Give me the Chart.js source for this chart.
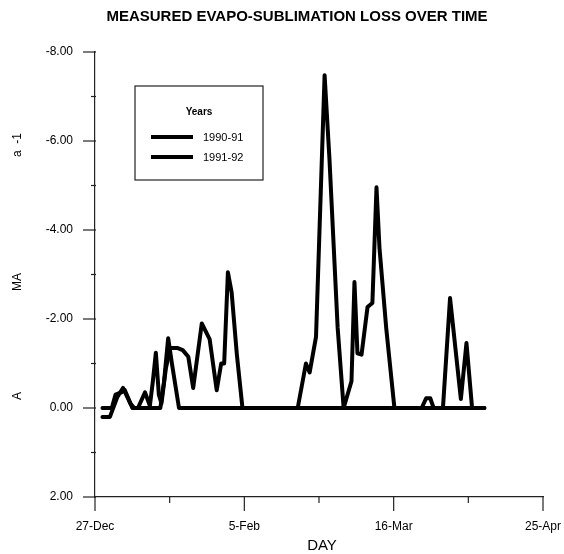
<!DOCTYPE html>
<html>
<head>
<meta charset="utf-8">
<script src="https://cdn.jsdelivr.net/npm/chart.js@4/dist/chart.umd.min.js"></script>
<style>
  html, body { margin: 0; padding: 0; background: #fff; }
  #wrap { width: 564px; height: 554px; }
</style>
</head>
<body>
<div id="wrap"><canvas id="chartLoss"></canvas></div>
<script>
	// days counted from 27-Dec
	let seriesNames = ["1990-91", "1991-92"];

	let days9091 = [2, 4.5, 5.5, 7, 8, 10, 11.5, 13.4, 14.7, 15.5, 16.3, 17.1, 17.8, 19, 20.2, 22, 23.5, 25, 26.3, 28.6, 30.7, 32.6, 33.8, 34.6, 35.6, 36.6, 38, 39.5, 104.3];
	let loss9091 = [0, 0, -0.3, -0.35, -0.4, 0, 0, -0.35, -0.05, -0.6, -1.24, -0.3, -0.1, -0.9, -1.35, -1.35, -1.3, -1.15, -0.45, -1.9, -1.55, -0.4, -1.0, -1.0, -3.05, -2.6, -1.2, 0, 0];

	let days9192 = [2, 4, 6, 7.5, 9.5, 10.5, 17.5, 18.5, 19.6, 20.6, 22.5, 54.3, 56.5, 57.5, 59.2, 61.5, 62.8, 65, 66.6, 68.7, 69.5, 70.3, 71.4, 73, 74.3, 75.4, 76.2, 78, 80.2, 87.5, 88.7, 89.8, 90.7, 93.2, 95.1, 98, 99.5, 101, 104.3];
	let loss9192 = [0.2, 0.2, -0.25, -0.45, -0.1, 0, 0, -0.6, -1.57, -1.0, 0, 0, -1.0, -0.8, -1.6, -7.48, -5.6, -1.8, 0, -0.6, -2.83, -1.23, -1.2, -2.27, -2.36, -4.96, -3.6, -1.8, 0, 0, -0.22, -0.22, 0, 0, -2.47, -0.2, -1.46, 0, 0];

	let dayTicks = [0, 40, 80, 120];
	let dayLabels = ["27-Dec", "5-Feb", "16-Mar", "25-Apr"];

	function toPoints(xs, ys) {
		return xs.map(function(x, i) { return { x: x, y: ys[i] }; });
	}

	let fontName = "'Liberation Sans', Arial, sans-serif";

	let decorPlugin = {
		id: 'decor',
		afterDraw: function(chart) {
			let ctx = chart.ctx;
			let xs = chart.scales.x;
			let ys = chart.scales.y;
			let area = chart.chartArea;
			ctx.save();
			ctx.strokeStyle = '#222';
			ctx.lineWidth = 1.2;

			// y ticks
			for (let v = -8; v <= 2; v++) {
				let py = ys.getPixelForValue(v);
				let len = (v % 2 === 0) ? 12 : 4;
				ctx.beginPath();
				ctx.moveTo(area.left - len, py);
				ctx.lineTo(area.left + 1, py);
				ctx.stroke();
			}
			// x ticks
			for (let d = 0; d <= 120; d += 20) {
				let px = xs.getPixelForValue(d);
				let len = (d % 40 === 0) ? 14 : 6;
				ctx.beginPath();
				ctx.moveTo(px, area.bottom);
				ctx.lineTo(px, area.bottom + len);
				ctx.stroke();
			}

			// title
			ctx.fillStyle = '#000';
			ctx.textAlign = 'center';
			ctx.textBaseline = 'middle';
			ctx.font = 'bold 15px ' + fontName;
			ctx.fillText('MEASURED EVAPO-SUBLIMATION LOSS OVER TIME', 297, 17);

			// x title
			ctx.font = '15px ' + fontName;
			ctx.fillText('DAY', 322, 546);

			// y title pieces
			ctx.font = '12px ' + fontName;
			[['A', 396], ['MA', 282], ['a  -1', 145]].forEach(function(p) {
				ctx.save();
				ctx.translate(18, p[1]);
				ctx.rotate(-Math.PI / 2);
				ctx.fillText(p[0], 0, 0);
				ctx.restore();
			});

			// legend box
			ctx.lineWidth = 1.2;
			ctx.strokeRect(135, 86, 128, 94);
			ctx.font = 'bold 10px ' + fontName;
			ctx.fillText('Years', 199, 112);
			ctx.textAlign = 'left';
			ctx.font = '11px ' + fontName;
			chart.data.datasets.forEach(function(ds, i) {
				let ly = 137 + i * 20;
				ctx.strokeStyle = ds.borderColor;
				ctx.lineWidth = 4;
				ctx.beginPath();
				ctx.moveTo(151, ly);
				ctx.lineTo(193, ly);
				ctx.stroke();
				ctx.fillText(ds.label, 203, ly + 1);
			});
			ctx.restore();
		}
	};

	let ctxLoss = document.getElementById('chartLoss');

	let chartLoss = new Chart(ctxLoss, {
		type: 'line',
		data: {
			datasets: [{
				label: seriesNames[0],
				data: toPoints(days9091, loss9091),
				borderColor: '#000',
				borderWidth: 4,
				pointRadius: 0,
				tension: 0,
				borderJoinStyle: 'round',
				borderCapStyle: 'round'
			}, {
				label: seriesNames[1],
				data: toPoints(days9192, loss9192),
				borderColor: '#000',
				borderWidth: 4,
				pointRadius: 0,
				tension: 0,
				borderJoinStyle: 'round',
				borderCapStyle: 'round'
			}]
		},
		options: {
			responsive: true,
			maintainAspectRatio: false,
			animation: false,
			layout: {
				padding: { top: 52, right: 21, left: 0, bottom: 0 }
			},
			plugins: {
				legend: { display: false },
				tooltip: { enabled: false }
			},
			scales: {
				x: {
					type: 'linear',
					min: 0,
					max: 120,
					afterBuildTicks: function(scale) {
						scale.ticks = dayTicks.map(function(v) { return { value: v }; });
					},
					afterFit: function(scale) {
						scale.height = 57;
						scale.paddingRight = 0;
						scale.paddingLeft = 0;
					},
					ticks: {
						color: '#000',
						font: { family: fontName, size: 12 },
						padding: 22,
						maxRotation: 0,
						callback: function(value) {
							let k = dayTicks.indexOf(value);
							return k >= 0 ? dayLabels[k] : '';
						}
					},
					grid: { display: false, drawTicks: false },
					border: { display: true, color: '#222', width: 1.2 }
				},
				y: {
					type: 'linear',
					reverse: true,
					min: -8,
					max: 2,
					afterFit: function(scale) { scale.width = 95; },
					ticks: {
						stepSize: 2,
						color: '#000',
						font: { family: fontName, size: 12 },
						padding: 22,
						callback: function(value) { return value.toFixed(2); }
					},
					grid: { display: false, drawTicks: false },
					border: { display: true, color: '#222', width: 1.2 }
				}
			}
		},
		plugins: [decorPlugin]
	});
</script>
</body>
</html>
